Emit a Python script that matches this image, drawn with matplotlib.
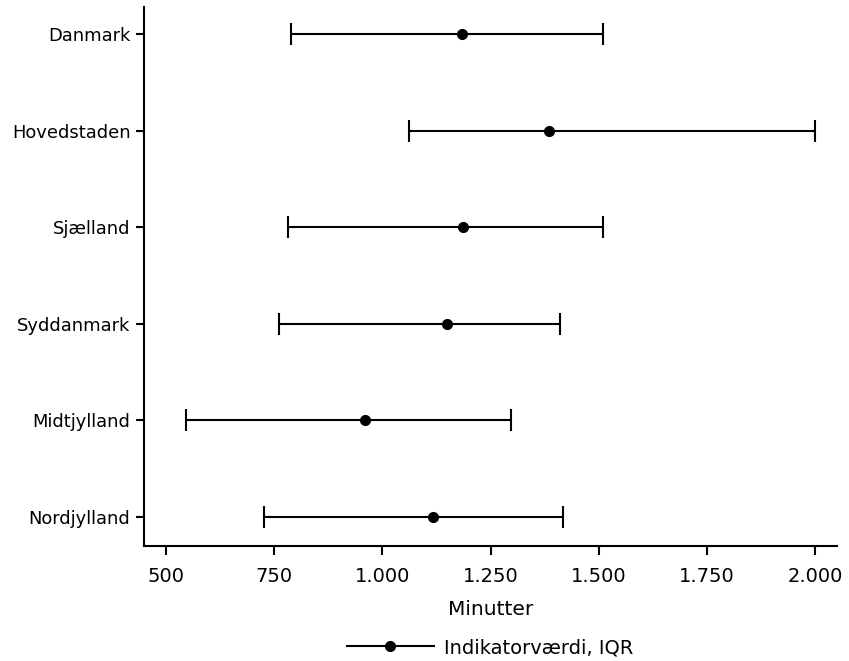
import matplotlib
matplotlib.use("Agg")
import matplotlib.pyplot as plt
import matplotlib.ticker as mticker
from matplotlib.lines import Line2D

categories = ["Danmark", "Hovedstaden", "Sjælland", "Syddanmark", "Midtjylland", "Nordjylland"]
median = [1184, 1384, 1187, 1150, 960, 1117]
q1 = [788, 1062, 781, 762, 547, 727]
q3 = [1510, 1998, 1510, 1410, 1296, 1418]
xticks = [500, 750, 1000, 1250, 1500, 1750, 2000]

fig = plt.figure(figsize=(8.49, 6.61), dpi=100)
ax = fig.add_axes([0.170, 0.174, 0.816, 0.815])

ypos = list(range(len(categories)))
xerr = [[m - a for m, a in zip(median, q1)], [b - m for m, b in zip(median, q3)]]
ax.errorbar(median, ypos, xerr=xerr, fmt="o", color="black", ecolor="black",
            elinewidth=1.5, capsize=7.8, capthick=1.5, markersize=7,
            linestyle="none")

ax.set_yticks(ypos)
ax.set_yticklabels(categories, fontsize=12.9)
ax.set_ylim(5.3, -0.28)
ax.set_xlim(450, 2050)
ax.set_xticks(xticks)
ax.xaxis.set_major_formatter(mticker.FuncFormatter(lambda v, p: f"{int(v):,}".replace(",", ".")))
ax.tick_params(axis="x", labelsize=14, length=6.5, width=1.5, pad=8.5)
ax.tick_params(axis="y", length=5.5, width=1.5, pad=4.5)
ax.set_xlabel("Minutter", fontsize=14.5, labelpad=10)
for s in ["top", "right"]:
    ax.spines[s].set_visible(False)
for s in ["left", "bottom"]:
    ax.spines[s].set_linewidth(1.5)

h = Line2D([], [], color="black", lw=1.5, marker="o", markersize=7)
fig.legend([h], ["Indikatorværdi, IQR"], loc="center", bbox_to_anchor=(0.577, 0.02),
           frameon=False, fontsize=14, handlelength=4.5, handletextpad=0.5)

fig.savefig("out.png", dpi=100)
